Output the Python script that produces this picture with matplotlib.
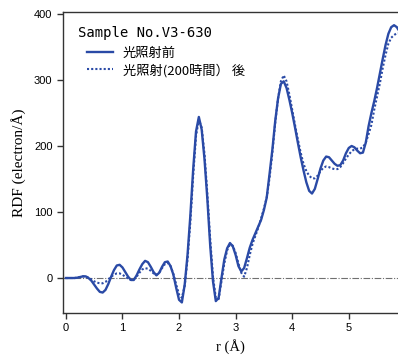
import numpy as np
import matplotlib
matplotlib.use("Agg")
import matplotlib.pyplot as plt
from matplotlib import font_manager

r = [0.00, 0.05, 0.10, 0.15, 0.20, 0.25, 0.30, 0.35, 0.40, 0.45,
     0.50, 0.55, 0.60, 0.65, 0.70, 0.75, 0.80, 0.85, 0.90, 0.95,
     1.00, 1.05, 1.10, 1.15, 1.20, 1.25, 1.30, 1.35, 1.40, 1.45,
     1.50, 1.55, 1.60, 1.65, 1.70, 1.75, 1.80, 1.85, 1.90, 1.95,
     2.00, 2.05, 2.10, 2.15, 2.20, 2.25, 2.30, 2.35, 2.40, 2.45,
     2.50, 2.55, 2.60, 2.65, 2.70, 2.75, 2.80, 2.85, 2.90, 2.95,
     3.00, 3.05, 3.10, 3.15, 3.20, 3.25, 3.30, 3.35, 3.40, 3.45,
     3.50, 3.55, 3.60, 3.65, 3.70, 3.75, 3.80, 3.85, 3.90, 3.95,
     4.00, 4.05, 4.10, 4.15, 4.20, 4.25, 4.30, 4.35, 4.40, 4.45,
     4.50, 4.55, 4.60, 4.65, 4.70, 4.75, 4.80, 4.85, 4.90, 4.95,
     5.00, 5.05, 5.10, 5.15, 5.20, 5.25, 5.30, 5.35, 5.40, 5.45,
     5.50, 5.55, 5.60, 5.65, 5.70, 5.75, 5.80, 5.85, 5.87]

rdf_before = [0, 0, 0, 0, 0.5, 1.5, 2.5, 2.5, 0, -4,
              -10, -16, -21, -22, -18, -9, 2, 12, 19, 20,
              16, 9, 2, -3, -3, 4, 13, 21, 26, 24,
              17, 9, 4, 8, 17, 24, 25, 18, 5, -15,
              -33, -37, -10, 35, 95, 165, 222, 244, 225, 180,
              120, 50, -5, -35, -30, 0, 28, 45, 53, 48,
              35, 18, 10, 15, 30, 46, 58, 68, 78, 88,
              103, 122, 158, 195, 238, 272, 294, 298, 288, 270,
              250, 228, 205, 183, 163, 145, 132, 128, 135, 150,
              166, 178, 184, 183, 178, 173, 170, 171, 178, 189,
              197, 200, 198, 193, 189, 190, 205, 230, 250, 268,
              288, 310, 332, 353, 370, 380, 383, 380, 377]

rdf_after = [0, 0, 0, 0, 0.5, 1.5, 2.5, 2.5, 0.5, -2,
             -5, -7, -8, -8, -6, -2, 2, 5, 7, 7,
             5, 2, -1, -3, -2, 2, 8, 13, 15, 14,
             11, 7, 5, 8, 15, 21, 23, 18, 6, -10,
             -25, -30, -12, 28, 85, 155, 215, 240, 228, 188,
             128, 60, 2, -30, -32, -5, 22, 42, 51, 49,
             38, 22, 8, 2, 15, 35, 52, 64, 76, 90,
             105, 122, 152, 190, 235, 272, 298, 307, 298, 278,
             255, 232, 210, 190, 173, 162, 155, 151, 151, 155,
             162, 167, 169, 168, 166, 165, 165, 168, 174, 181,
             187, 192, 195, 196, 196, 198, 205, 218, 232, 255,
             275, 295, 318, 338, 355, 364, 368, 371, 371]

x_ticks = [0, 1, 2, 3, 4, 5]
y_ticks = [0, 100, 200, 300, 400]
labels = ["光照射前", "光照射(200時間） 後"]
title = "Sample No.V3-630"

names = {f.name for f in font_manager.fontManager.ttflist}
narrow = "Liberation Sans Narrow" if "Liberation Sans Narrow" in names else "Liberation Sans"

blue = "#2a4aa6"

fig = plt.figure(figsize=(3.98, 3.58), dpi=100)
ax = fig.add_axes([0.158, 0.1257, 0.842, 0.8408])

ax.axhline(0, color="#707070", lw=0.8, ls=(0, (6, 1.5, 1, 1.5)), zorder=1)
ax.plot(r, rdf_before, color=blue, lw=1.7, zorder=3, label=labels[0])
ax.plot(r, rdf_after, color=blue, lw=1.5, ls=(0, (1, 1)), zorder=2, label=labels[1])

ax.set_xlim(-0.053, 5.87)
ax.set_ylim(-53, 403)
ax.set_xticks(x_ticks)
ax.set_yticks(y_ticks)
ax.tick_params(direction="out", length=4, width=1, color="#333333", labelsize=8)
for lab in ax.get_xticklabels() + ax.get_yticklabels():
    lab.set_fontfamily(narrow)
ax.spines["right"].set_visible(False)
for s in ["left", "bottom", "top"]:
    ax.spines[s].set_color("#333333")
    ax.spines[s].set_linewidth(1.0)

ax.set_xlabel("r (Å)", family="Liberation Serif", fontsize=10.5, labelpad=4)
ax.set_ylabel("RDF (electron/Å)", family="Liberation Serif", fontsize=11, labelpad=6)

ax.text(0.045, 0.955, title, transform=ax.transAxes, family="DejaVu Sans Mono",
        fontsize=10, va="top", ha="left")
leg = ax.legend(loc="upper left", bbox_to_anchor=(0.047, 0.91), frameon=False,
                prop={"family": ["Noto Sans CJK JP", "DejaVu Sans"], "size": 9.5},
                handlelength=2.0, handletextpad=0.75, labelspacing=0.25,
                borderaxespad=0.2)

fig.savefig("out.png", dpi=100)
